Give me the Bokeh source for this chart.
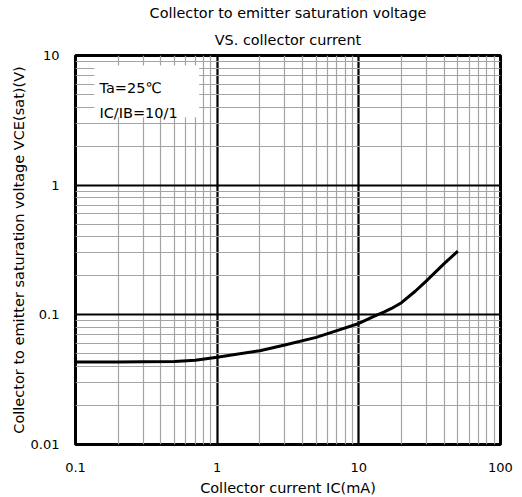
from bokeh.plotting import figure
from bokeh.layouts import row
from bokeh.models import (LogTicker, CustomJSTickFormatter, Title, BoxAnnotation, Label, Spacer)
from bokeh.embed import file_html
from bokeh.resources import INLINE

# ---- data ----
ic_ma = [0.1, 0.2, 0.3, 0.5, 0.7, 1, 2, 3, 5, 7, 10, 13, 15, 17, 20, 25, 30, 40, 50]
vce_sat = [0.0433, 0.0433, 0.0434, 0.0437, 0.0446, 0.047, 0.0529, 0.0585, 0.067,
           0.0755, 0.0858, 0.098, 0.105, 0.112, 0.124, 0.152, 0.183, 0.248, 0.31]
x_ticks = [0.1, 1, 10, 100]
x_tick_labels = ["0.1", "1", "10", "100"]
y_ticks = [0.01, 0.1, 1, 10]
y_tick_labels = ["0.01", "0.1", "1", "10"]
title_lines = ["Collector to emitter saturation voltage", "VS. collector current"]
x_label = "Collector current IC(mA)"
y_label = "Collector to emitter saturation voltage VCE(sat)(V)"
cond_lines = ["Ta=25\u2103", "IC/IB=10/1"]

FONT = "DejaVu Sans"

fig = figure(frame_width=425, frame_height=389, x_axis_type="log", y_axis_type="log",
             x_range=(0.1, 100), y_range=(0.01, 10),
             output_backend="svg", toolbar_location=None, title=None,
             min_border_left=0, min_border_right=15, min_border_top=0, min_border_bottom=0)
fig.background_fill_color = "white"
fig.border_fill_color = "white"
fig.outline_line_color = "black"
fig.outline_line_width = 3

code = """
for (let i = 0; i < tvals.length; i++) {
  if (Math.abs(Math.log10(tick) - Math.log10(tvals[i])) < 1e-6) return tlabs[i];
}
return "";
"""
fig.xaxis.ticker = LogTicker(num_minor_ticks=10)
fig.yaxis.ticker = LogTicker(num_minor_ticks=10)
fig.xaxis.formatter = CustomJSTickFormatter(args=dict(tvals=x_ticks, tlabs=x_tick_labels), code=code)
fig.yaxis.formatter = CustomJSTickFormatter(args=dict(tvals=y_ticks, tlabs=y_tick_labels), code=code)

for ax in (fig.xaxis, fig.yaxis):
    ax.axis_line_color = None
    ax.major_tick_line_color = None
    ax.minor_tick_line_color = None
    ax.major_label_text_font = FONT
    ax.major_label_text_font_size = "13px"
    ax.major_label_text_color = "black"
    ax.axis_label_text_font = FONT
    ax.axis_label_text_font_size = "14.5px"
    ax.axis_label_text_font_style = "normal"
    ax.axis_label_text_color = "black"

fig.xaxis.axis_label = x_label
fig.yaxis.axis_label = y_label
fig.xaxis.major_label_standoff = 12
fig.yaxis.major_label_standoff = 10
fig.xaxis.axis_label_standoff = 5
fig.yaxis.axis_label_standoff = 1

for g in (fig.xgrid, fig.ygrid):
    g.grid_line_color = "black"
    g.grid_line_width = 2.2
    g.minor_grid_line_color = "#a4a4a4"
    g.minor_grid_line_width = 1.2

# titles (first added is closest to the plot)
fig.add_layout(Title(text=title_lines[1], align="center", text_font=FONT, text_font_size="14.4px",
                     text_font_style="normal", text_color="black", standoff=15), "above")
fig.add_layout(Title(text=title_lines[0], align="center", text_font=FONT, text_font_size="14.4px",
                     text_font_style="normal", text_color="black", standoff=4), "above")

fig.line(ic_ma, vce_sat, line_color="black", line_width=3, line_join="round")

# condition box
fig.add_layout(BoxAnnotation(left=0.136, right=0.746, bottom=3.34, top=8.38,
                             fill_color="white", fill_alpha=1.0, line_color=None))
fig.add_layout(Label(x=0.1476, y=5.6, text=cond_lines[0], text_font=FONT,
                     text_font_size="14.5px", text_color="black", text_baseline="alphabetic"))
fig.add_layout(Label(x=0.1476, y=3.58, text=cond_lines[1], text_font=FONT,
                     text_font_size="14.5px", text_color="black", text_baseline="alphabetic"))

p = row(Spacer(width=7, height=10), fig, spacing=0)

open("out.html", "w").write(file_html(p, INLINE))
